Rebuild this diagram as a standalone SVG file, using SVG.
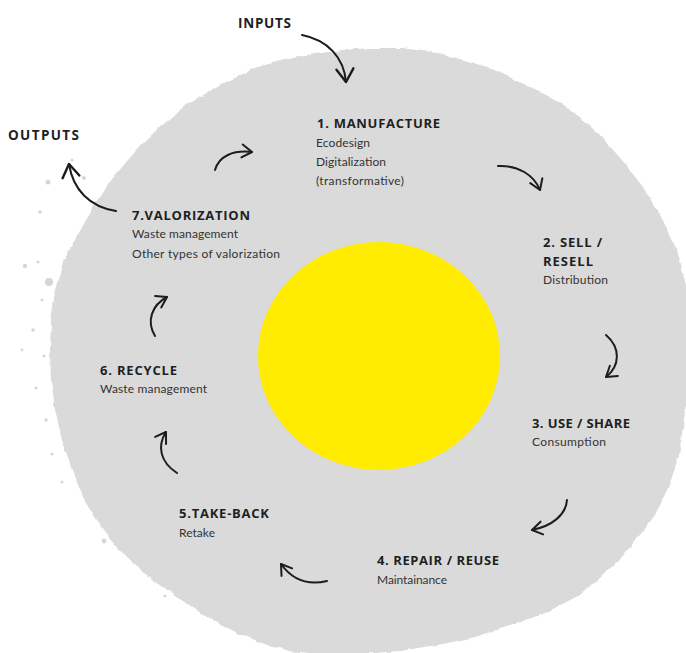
<svg xmlns="http://www.w3.org/2000/svg" width="686" height="653" viewBox="0 0 686 653">
  <style>
    .title { font-family: "Open Sans", Lato, "DejaVu Sans", sans-serif; font-weight: 700; font-size: 13px; fill: #1f1f1f; }
    .flow { font-family: "Open Sans", Lato, "DejaVu Sans", sans-serif; font-weight: 700; font-size: 13.5px; fill: #1f1f1f; }
    .body { font-family: Lato, "Open Sans", "DejaVu Sans", sans-serif; font-weight: 400; font-size: 12px; fill: #333333; }
    .arrow { fill: none; stroke: #1c1c1c; stroke-width: 2; stroke-linecap: round; }
    .speck { fill: #d6d6d6; }
  </style>
  <defs>
    <marker id="head" viewBox="-13 -9 15 18" refX="0" refY="0" markerWidth="15" markerHeight="18" orient="auto" markerUnits="userSpaceOnUse">
      <path d="M-10,-6.5 L0,0 L-10,6.5" fill="none" stroke="#1c1c1c" stroke-width="2" stroke-linecap="round" stroke-linejoin="round"/>
    </marker>
    <marker id="head-lg" viewBox="-16 -11 18 22" refX="0" refY="0" markerWidth="18" markerHeight="22" orient="auto" markerUnits="userSpaceOnUse">
      <path d="M-13,-8.5 L0,0 L-13,8.5" fill="none" stroke="#1c1c1c" stroke-width="2.4" stroke-linecap="round" stroke-linejoin="round"/>
    </marker>
    <filter id="rough" x="-5%" y="-5%" width="110%" height="110%">
      <feTurbulence type="fractalNoise" baseFrequency="0.09" numOctaves="2" seed="4" result="noise"/>
      <feDisplacementMap in="SourceGraphic" in2="noise" scale="4" xChannelSelector="R" yChannelSelector="G"/>
    </filter>
  </defs>

  <rect width="686" height="653" fill="#ffffff"/>

  <!-- painted grey disc -->
  <g id="disc">
    <path filter="url(#rough)" fill="#dadada" d="M343,50 L370,48 L403,48 L443,54 L490,68 L543,93 L575,113 L600,135 L622,160 L643,187 L660,215 L672,238 L680,260 L686,285 L689,315 L690,350 L688,385 L684,420 L679,455 L668,488 L655,515 L640,535 L622,557 L600,578 L576,597 L545,613 L510,626 L475,637 L443,644 L400,651 L360,654 L320,654 L290,651 L267,645 L240,634 L213,621 L190,606 L170,592 L148,576 L127,558 L110,538 L95,517 L83,497 L72,470 L62,440 L55,410 L51,380 L50,350 L51,320 L55,290 L63,262 L75,240 L86,220 L97,200 L113,178 L128,160 L142,144 L160,127 L187,105 L220,85 L257,67 L300,56 Z"/>
    <!-- spatter along the left rim -->
    <circle class="speck" cx="48" cy="182" r="2.5"/>
    <circle class="speck" cx="40" cy="212" r="1.8"/>
    <circle class="speck" cx="49" cy="282" r="4"/>
    <circle class="speck" cx="38" cy="262" r="1.5"/>
    <circle class="speck" cx="25" cy="266" r="2.2"/>
    <circle class="speck" cx="42" cy="300" r="1.6"/>
    <circle class="speck" cx="33" cy="330" r="1.8"/>
    <circle class="speck" cx="44" cy="356" r="1.5"/>
    <circle class="speck" cx="22" cy="350" r="1.4"/>
    <circle class="speck" cx="36" cy="388" r="1.6"/>
    <circle class="speck" cx="46" cy="420" r="1.8"/>
    <circle class="speck" cx="52" cy="454" r="1.6"/>
    <circle class="speck" cx="62" cy="482" r="1.5"/>
    <circle class="speck" cx="104" cy="541" r="2.4"/>
    <circle class="speck" cx="165" cy="596" r="1.6"/>
    <circle class="speck" cx="72" cy="160" r="1.5"/>
    <circle class="speck" cx="84" cy="178" r="2"/>
  </g>

  <!-- yellow core -->
  <g id="core">
    <ellipse cx="379" cy="356" rx="121" ry="114" fill="#ffec00"/>
  </g>

  <!-- curved arrows linking the stages -->
  <g id="connectors">
    <path class="arrow" marker-end="url(#head-lg)" d="M302,35 C328,40 344,58 346,82"/>
    <path class="arrow" marker-end="url(#head)" d="M215,170 C219,156 233,150 252,152"/>
    <path class="arrow" marker-end="url(#head)" d="M498,166 C518,165 534,175 540,190"/>
    <path class="arrow" marker-end="url(#head)" d="M606,335 C621,348 620,366 606,377"/>
    <path class="arrow" marker-end="url(#head)" d="M567,500 C566,515 552,526 532,530"/>
    <path class="arrow" marker-end="url(#head)" d="M327,581 C306,586 291,578 281,564"/>
    <path class="arrow" marker-end="url(#head)" d="M177,473 C160,462 157,446 166,432"/>
    <path class="arrow" marker-end="url(#head)" d="M155,336 C146,321 152,305 167,297"/>
    <path class="arrow" marker-end="url(#head-lg)" d="M116,211 C90,207 73,190 69,164"/>
  </g>

  <g id="inputs">
    <text class="flow" x="238" y="28" textLength="53">INPUTS</text>
  </g>
  <g id="outputs">
    <text class="flow" x="8" y="140" textLength="71">OUTPUTS</text>
  </g>

  <g id="manufacture">
    <text class="title" x="317" y="128" textLength="123">1. MANUFACTURE</text>
    <text class="body" x="316" y="147" textLength="54">Ecodesign</text>
    <text class="body" x="316" y="166" textLength="70">Digitalization</text>
    <text class="body" x="316" y="185" textLength="88">(transformative)</text>
  </g>

  <g id="sell">
    <text class="title" x="543" y="247" textLength="59">2.  SELL /</text>
    <text class="title" x="543" y="266" textLength="50">RESELL</text>
    <text class="body" x="543" y="284" textLength="65">Distribution</text>
  </g>

  <g id="use">
    <text class="title" x="532" y="428" textLength="98">3. USE / SHARE</text>
    <text class="body" x="532" y="446" textLength="74">Consumption</text>
  </g>

  <g id="repair">
    <text class="title" x="377" y="565" textLength="122">4.  REPAIR / REUSE</text>
    <text class="body" x="377" y="584" textLength="70">Maintainance</text>
  </g>

  <g id="take-back">
    <text class="title" x="179" y="518" textLength="90">5.TAKE-BACK</text>
    <text class="body" x="179" y="537" textLength="36">Retake</text>
  </g>

  <g id="recycle">
    <text class="title" x="100" y="375" textLength="77">6. RECYCLE</text>
    <text class="body" x="100" y="393" textLength="107">Waste management</text>
  </g>

  <g id="valorization">
    <text class="title" x="132" y="220" textLength="118">7.VALORIZATION</text>
    <text class="body" x="132" y="238" textLength="106">Waste management</text>
    <text class="body" x="132" y="258" textLength="148">Other types of valorization</text>
  </g>
</svg>
